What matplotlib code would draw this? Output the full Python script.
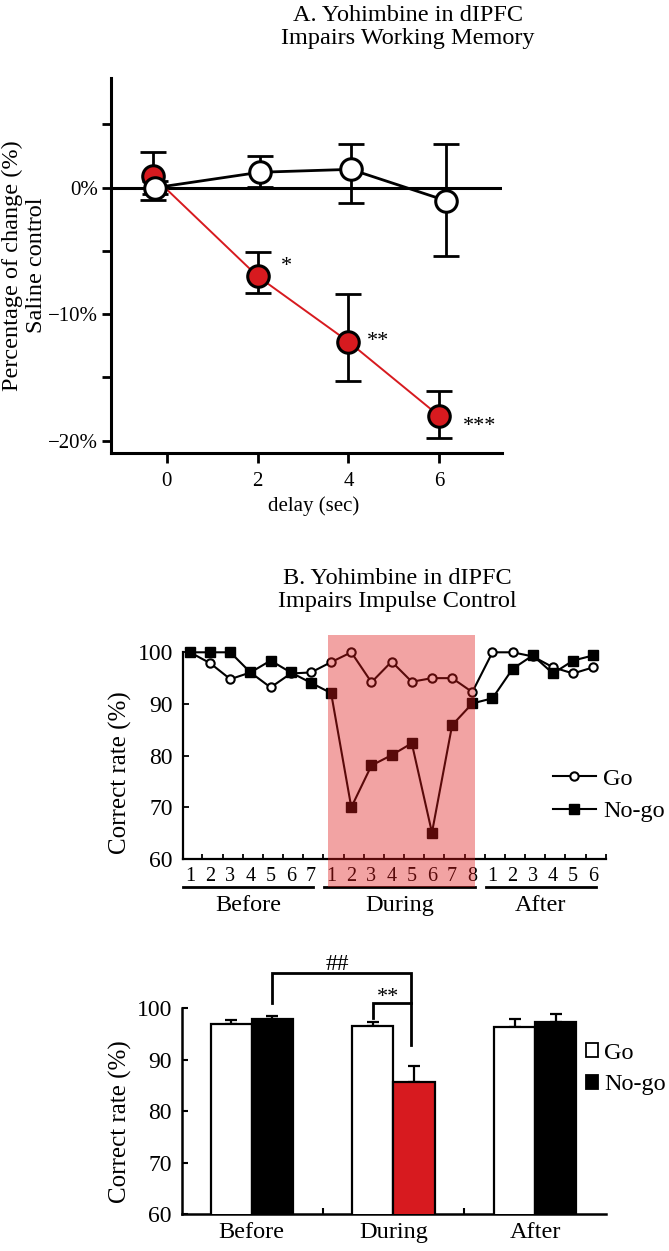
import matplotlib
matplotlib.use('Agg')
import matplotlib.pyplot as plt
import numpy as np
from matplotlib.patches import Rectangle, Patch
from matplotlib.lines import Line2D
import matplotlib.transforms as mtransforms

plt.rcParams['font.family'] = ['Liberation Serif', 'DejaVu Serif']

# ---------------- Panel A data ----------------
delays = [0, 2, 4, 6]
saline_mean = [0.0, 1.22, 1.45, -1.03]
saline_err_lo = [0.5, 1.2, 2.68, 4.37]
saline_err_hi = [0.5, 1.28, 2.0, 4.48]
yoh_mean = [0.9, -7.0, -12.17, -18.05]
yoh_err_lo = [1.9, 1.35, 3.13, 1.71]
yoh_err_hi = [1.9, 1.9, 3.77, 1.98]
sig_A = ['', '*', '**', '***']
yticks_A = [-20, -10, 0]
yticklabels_A = ['\u221220%', '\u221210%', '0%']

# ---------------- Panel B data ----------------
before_sessions = ['1', '2', '3', '4', '5', '6', '7']
during_sessions = ['1', '2', '3', '4', '5', '6', '7', '8']
after_sessions = ['1', '2', '3', '4', '5', '6']
go_rate = [100, 97.9, 94.8, 96.1, 93.2, 95.9, 96.1,
           98.1, 100, 94.2, 98.2, 94.3, 95.0, 95.0, 92.3,
           100, 100, 99.2, 97.1, 95.9, 97.1]
nogo_rate = [100, 100, 100, 96.1, 98.4, 96.1, 94.1,
             92.1, 70.0, 78.1, 80.1, 82.4, 65.1, 85.9, 90.1,
             91.1, 96.8, 99.4, 95.9, 98.4, 99.4]
phase_names = ['Before', 'During', 'After']

# ---------------- Panel C data ----------------
phases = ['Before', 'During', 'After']
go_mean = [97.0, 96.6, 96.3]
go_sem = [0.8, 0.8, 1.7]
nogo_mean = [97.9, 85.6, 97.3]
nogo_sem = [0.6, 3.1, 1.5]

# ---------------- styles ----------------
RED = '#d71a1f'
W, H = 669, 1251
fig = plt.figure(figsize=(W / 100, H / 100), dpi=100)


def ax_rect(l, t, r, b):
    return [l / W, 1 - b / H, (r - l) / W, (b - t) / H]


# ================= Panel A =================
axA = fig.add_axes(ax_rect(111, 78, 502, 453))
axA.set_xlim(-1.226, 7.38)
axA.set_ylim(-20.97, 8.67)
offs_yoh = [-0.3, 0, 0, 0]
offs_sal = [-0.25, 0.05, 0.05, 0.15]
x_yoh = np.array(delays) + np.array(offs_yoh)
x_sal = np.array(delays) + np.array(offs_sal)

axA.axhline(0, color='black', lw=2.2, zorder=1)
axA.errorbar(x_yoh, yoh_mean, yerr=[yoh_err_lo, yoh_err_hi], fmt='none',
             ecolor='black', elinewidth=2, capsize=9.5, capthick=2, zorder=2)
axA.plot(x_yoh, yoh_mean, color=RED, lw=1.4, zorder=2)
axA.plot(x_yoh, yoh_mean, 'o', ms=15.5, mfc=RED, mec='black', mew=2.2, zorder=4)
axA.errorbar(x_sal, saline_mean, yerr=[saline_err_lo, saline_err_hi], fmt='none',
             ecolor='black', elinewidth=2, capsize=9.5, capthick=2, zorder=3)
axA.plot(x_sal, saline_mean, color='black', lw=2, zorder=3)
axA.plot(x_sal, saline_mean, 'o', ms=15.5, mfc='white', mec='black', mew=2.2, zorder=5)

sig_offsets = [(0, 0), (21, 3.8), (21.6, -3.4), (29.3, -11.1)]
for xi, yi, s, off in zip(x_yoh, yoh_mean, sig_A, sig_offsets):
    if s:
        axA.annotate(s, xy=(xi, yi), xytext=off, textcoords='offset points',
                     ha='center', va='baseline', fontsize=16)

for sp in ['top', 'right']:
    axA.spines[sp].set_visible(False)
for sp in ['left', 'bottom']:
    axA.spines[sp].set_linewidth(2.2)
axA.set_yticks(yticks_A)
axA.set_yticklabels(yticklabels_A)
axA.set_yticks([-15, -5, 5], minor=True)
axA.set_xticks(delays)
axA.tick_params(axis='y', which='both', direction='out', length=6.5, width=2,
                pad=3, labelsize=15)
axA.tick_params(axis='x', which='both', direction='out', length=7, width=2,
                pad=7, labelsize=15)
axA.set_xlabel('delay (sec)', fontsize=15)
axA.xaxis.set_label_coords(0.517, -0.115)
axA.set_ylabel('Percentage of change (%)\nSaline control', fontsize=17.5,
               linespacing=1.2)
axA.yaxis.set_label_coords(-0.163, 0.5)

fig.text(408 / W, 1 - 27 / H, 'A. Yohimbine in dIPFC\nImpairs Working Memory',
         ha='center', va='center', fontsize=17.5, linespacing=1.1)

# ================= Panel B =================
axB = fig.add_axes(ax_rect(182.7, 652.3, 606, 859))
n_b, n_d, n_a = len(before_sessions), len(during_sessions), len(after_sessions)
idx = np.arange(n_b + n_d + n_a)
axB.set_xlim(-0.36, 20.63)
axB.set_ylim(60, 100)
axB.plot(idx, go_rate, '-o', color='black', mfc='white', mec='black', ms=6,
         mew=1.5, lw=1.5, clip_on=False, label='Go', zorder=3)
axB.plot(idx, nogo_rate, '-s', color='black', ms=6.5, lw=1.5, clip_on=False,
         label='No-go', zorder=4)

blend = mtransforms.blended_transform_factory(axB.transData, axB.transAxes)
shade_lo, shade_hi = -0.1355, 1.0837
shade_x0 = n_b - 0.14
shade_x1 = n_b + n_d - 0.87
axB.add_patch(Rectangle((shade_x0, shade_lo), shade_x1 - shade_x0,
                        shade_hi - shade_lo, transform=blend,
                        facecolor=(0.88, 0.1, 0.1), alpha=0.4,
                        lw=0, clip_on=False, zorder=10))

starts = [0, n_b, n_b + n_d]
ends = [n_b - 1, n_b + n_d - 1, n_b + n_d + n_a - 1]
for s, e, name in zip(starts, ends, phase_names):
    x0, x1 = s - 0.33, e + 0.12
    axB.add_line(Line2D([x0, x1], [-0.1355, -0.1355], transform=blend,
                        color='black', lw=2, clip_on=False))
    axB.text((x0 + x1) / 2, -0.227, name, transform=blend, ha='center',
             va='center', fontsize=17.5)

for sp in ['top', 'right']:
    axB.spines[sp].set_visible(False)
for sp in ['left', 'bottom']:
    axB.spines[sp].set_linewidth(1.6)
axB.set_xticks(idx)
axB.set_xticklabels(before_sessions + during_sessions + after_sessions)
axB.set_xticks(idx + 0.62, minor=True)
axB.tick_params(axis='x', which='major', length=0, pad=6, labelsize=14.5)
axB.tick_params(axis='x', which='minor', direction='in', length=3.5, width=1.3)
axB.set_yticks([60, 70, 80, 90, 100])
axB.tick_params(axis='y', direction='in', length=4, width=1.3, pad=7,
                labelsize=17)
axB.set_ylabel('Correct rate (%)', fontsize=18)
axB.yaxis.set_label_coords(-0.12, 0.416)
axB.legend(loc='center left', bbox_to_anchor=(553 / W, 1 - 795 / H),
           bbox_transform=fig.transFigure, frameon=False, fontsize=17.5,
           handlelength=1.75, handletextpad=0.3, labelspacing=0.45,
           borderpad=0, borderaxespad=0)

fig.text(397 / W, 1 - 590 / H, 'B. Yohimbine in dIPFC\nImpairs Impulse Control',
         ha='center', va='center', fontsize=17.5, linespacing=1.1)

# ================= Panel C =================
axC = fig.add_axes(ax_rect(181.7, 1008.3, 606, 1214))
g = np.arange(len(phases))
bw = 0.29
axC.set_xlim(-0.494, 2.50)
axC.set_ylim(60, 100)
nogo_colors = ['black', RED, 'black']
axC.errorbar(g - bw / 2, go_mean, yerr=[np.zeros(3), go_sem], fmt='none',
             ecolor='black', elinewidth=1.6, capsize=4.6, capthick=1.6, zorder=2)
axC.errorbar(g + bw / 2, nogo_mean, yerr=[np.zeros(3), nogo_sem], fmt='none',
             ecolor='black', elinewidth=1.6, capsize=4.6, capthick=1.6, zorder=2)
axC.bar(g - bw / 2, go_mean, bw, color='white', edgecolor='black', lw=1.6,
        zorder=3)
axC.bar(g + bw / 2, nogo_mean, bw, color=nogo_colors, edgecolor='black', lw=1.6,
        zorder=3)

# significance brackets
xl_hash = g[0] + bw / 2
xr = g[1] + bw / 2 - 0.02
xl_star = g[1] - bw / 2
lvl_hash, lvl_star = 106.9, 101.05
axC.plot([xl_hash, xl_hash, xr, xr], [lvl_star, lvl_hash, lvl_hash, 92.9],
         color='black', lw=2, clip_on=False, solid_joinstyle='miter')
axC.plot([xl_star, xl_star, xr], [98.1, lvl_star, lvl_star], color='black',
         lw=2, clip_on=False, solid_joinstyle='miter')
axC.text((xl_hash + xr) / 2 - 0.03, lvl_hash + 0.5, '##', ha='center',
         va='baseline', fontsize=17)
axC.text((xl_star + xr) / 2 - 0.03, lvl_star + 0.25, '**', ha='center',
         va='baseline', fontsize=16)

for sp in ['top', 'right']:
    axC.spines[sp].set_visible(False)
for sp in ['left', 'bottom']:
    axC.spines[sp].set_linewidth(1.8)
axC.set_xticks(g)
axC.set_xticklabels(phases)
axC.set_xticks([0.5, 1.5], minor=True)
axC.tick_params(axis='x', which='major', length=0, pad=6, labelsize=17.5)
axC.tick_params(axis='x', which='minor', direction='in', length=4, width=1.5)
axC.set_yticks([60, 70, 80, 90, 100])
axC.tick_params(axis='y', direction='in', length=4, width=1.5, pad=7,
                labelsize=17)
axC.set_ylabel('Correct rate (%)', fontsize=18)
axC.yaxis.set_label_coords(-0.117, 0.447)
handles = [Patch(facecolor='white', edgecolor='black', lw=1.3),
           Patch(facecolor='black', edgecolor='black', lw=1.3)]
axC.legend(handles, ['Go', 'No-go'], loc='center left',
           bbox_to_anchor=(586 / W, 1 - 1069 / H), bbox_transform=fig.transFigure,
           frameon=False, fontsize=17.5, handlelength=0.5, handleheight=0.5,
           handletextpad=0.25, labelspacing=0.45, borderpad=0, borderaxespad=0)

fig.savefig('out.png', dpi=100)
